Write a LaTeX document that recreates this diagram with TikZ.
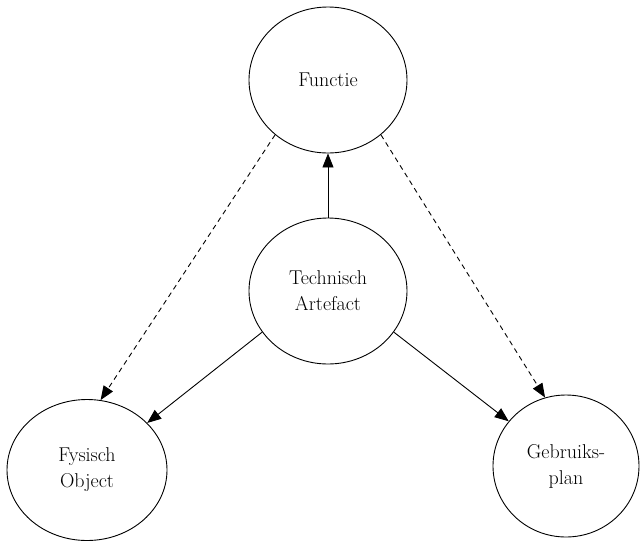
\documentclass[tikz,border=0pt]{standalone}
\usepackage{tikz}
\usetikzlibrary{shapes.geometric,arrows.meta}

\begin{document}
\begin{tikzpicture}[x=1pt,y=-1pt,
  bubble/.style={ellipse, draw, line width=0.9pt, inner sep=0pt,
    minimum width=158pt, minimum height=146pt, align=center,
    font=\fontsize{20}{26}\selectfont},
  tip/.style={-{Triangle[length=14pt,width=11pt]}, line width=0.9pt},
  hint/.style={tip, dash pattern=on 5pt off 4pt}]
  \useasboundingbox (0,0) rectangle (641,542);
  \node[bubble] (fun) at (328,80) {Functie};
  \node[bubble] (art) at (328,291) {Technisch\\Artefact};
  \node[bubble, minimum width=160pt, minimum height=141pt] (obj) at (87,470) {Fysisch\\Object};
  \node[bubble, minimum width=146pt, minimum height=142pt] (plan) at (566,466) {Gebruiks-\\plan};

  \path[tip]
    (art.90) edge (fun.270)
    (art.212) edge (obj.38)
    (art.328) edge (plan.142);
  \path[hint]
    (fun.226) edge (obj.79)
    (fun.314) edge (plan.107);
\end{tikzpicture}
\end{document}
